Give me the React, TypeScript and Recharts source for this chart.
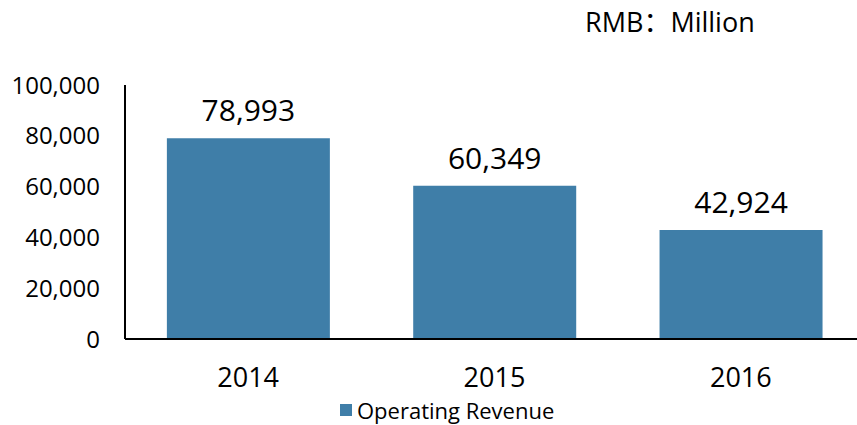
import { BarChart, Bar, XAxis, YAxis, LabelList } from "recharts";

const years = ["2014", "2015", "2016"];
const revenue = [78993, 60349, 42924];
const yTicks = [0, 20000, 40000, 60000, 80000, 100000];
const seriesName = "Operating Revenue";
const unitNote = "RMB：Million";

const data = years.map((year, i) => ({ year, revenue: revenue[i] }));

const FONT = "'Open Sans', 'Noto Sans', sans-serif";
const BAR = "#3F7EA8";

const fmt = (v: number) => v.toLocaleString("en-US");

export default function App() {
  const [unitLeft, unitRight] = unitNote.split("：");
  return (
    <div style={{ position: "fixed", left: 0, top: 0, width: 857, height: 425, overflow: "hidden", background: "#fff" }}>
      <div
        style={{
          position: "absolute",
          left: 585,
          top: 1,
          fontFamily: FONT,
          fontSize: 27,
          color: "#000",
          whiteSpace: "nowrap",
        }}
      >
        {unitLeft}
        <span style={{ fontFamily: "'Noto Sans CJK SC'" }}>：</span>
        {unitRight}
      </div>
      <BarChart
        width={864}
        height={425}
        data={data}
        margin={{ top: 85, right: 0, left: 0, bottom: 0 }}
        barCategoryGap="17%"
      >
        <XAxis
          dataKey="year"
          axisLine={{ stroke: "#000", strokeWidth: 2 }}
          tickLine={false}
          tickSize={0}
          tickMargin={29}
          height={86}
          tick={{ fill: "#000", fontSize: 27, fontFamily: FONT }}
        />
        <YAxis
          domain={[0, 100000]}
          ticks={yTicks}
          tickFormatter={fmt}
          axisLine={{ stroke: "#000", strokeWidth: 2 }}
          tickLine={false}
          tickSize={0}
          tickMargin={25}
          width={125}
          tick={{ fill: "#000", fontSize: 24, fontFamily: FONT }}
        />
        <Bar dataKey="revenue" name={seriesName} fill={BAR} isAnimationActive={false}>
          <LabelList
            dataKey="revenue"
            position="top"
            offset={17}
            formatter={(v: any) => fmt(Number(v))}
            style={{ fill: "#000", fontSize: 30, fontFamily: FONT }}
          />
        </Bar>
      </BarChart>
      <div
        style={{
          position: "absolute",
          left: 340,
          top: 396,
          display: "flex",
          alignItems: "center",
          fontFamily: FONT,
          fontSize: 22,
          lineHeight: "28px",
          color: "#000",
          whiteSpace: "nowrap",
        }}
      >
        <span style={{ width: 12, height: 12, background: BAR, display: "inline-block", marginRight: 5 }} />
        <span>{seriesName}</span>
      </div>
    </div>
  );
}
